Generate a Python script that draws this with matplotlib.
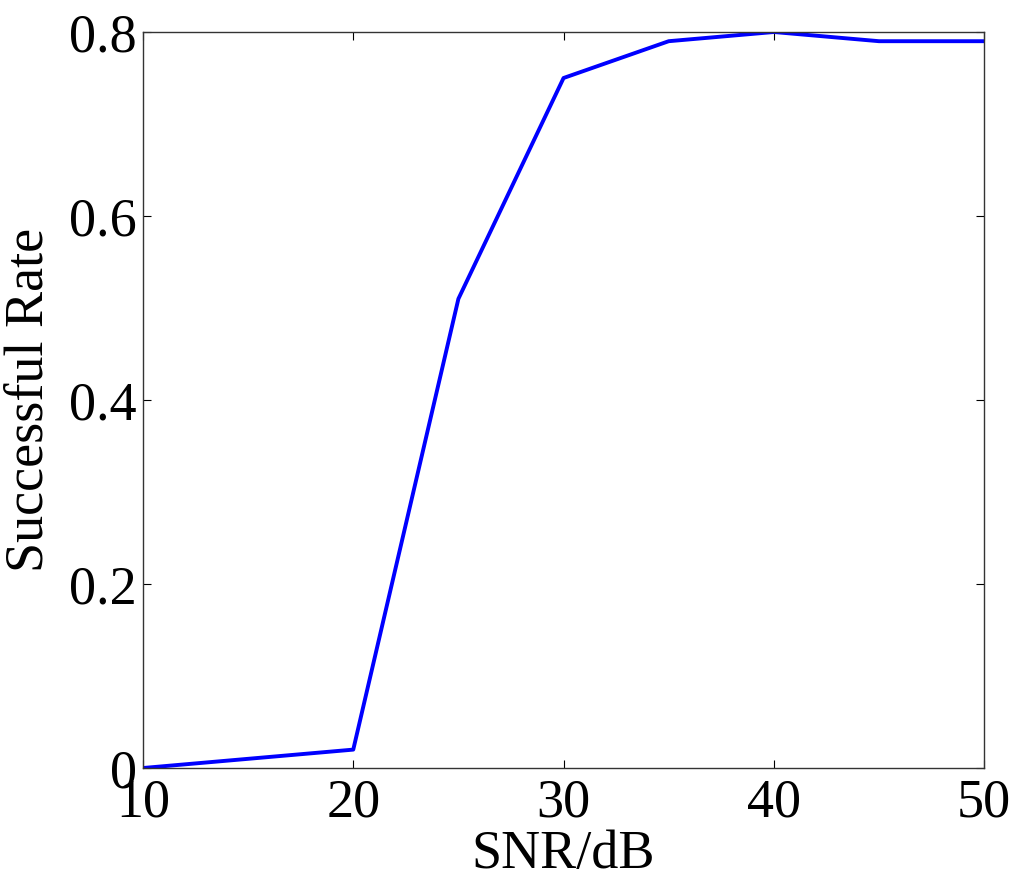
import matplotlib
matplotlib.use('Agg')
import matplotlib.pyplot as plt

snr = [10, 15, 20, 25, 30, 35, 40, 45, 50]
rate = [0.0, 0.01, 0.02, 0.51, 0.75, 0.79, 0.80, 0.79, 0.79]
xticks = [10, 20, 30, 40, 50]
yticks = [0, 0.2, 0.4, 0.6, 0.8]
yticklabels = ['0', '0.2', '0.4', '0.6', '0.8']

plt.rcParams['font.family'] = ['Liberation Serif', 'DejaVu Serif']

fig = plt.figure(figsize=(10.24, 8.84), dpi=100)
ax = fig.add_axes([0.1396, 0.1312, 0.8215, 0.8326])

ax.plot(snr, rate, color='#0000ff', linewidth=2.8)

ax.set_xlim(10, 50)
ax.set_ylim(0, 0.8)
ax.set_xticks(xticks)
ax.set_yticks(yticks)
ax.set_yticklabels(yticklabels)
ax.tick_params(direction='in', length=6, width=0.8, top=True, right=True,
               labelsize=39)
ax.tick_params(axis='x', pad=7)
ax.tick_params(axis='y', pad=4.5)
for s in ax.spines.values():
    s.set_linewidth(1.0)
    s.set_color('#333333')

ax.set_xlabel('SNR/dB', fontsize=39)
ax.set_ylabel('Successful Rate', fontsize=39)
ax.xaxis.set_label_coords(0.5, -0.083)
ax.yaxis.set_label_coords(-0.105, 0.5)

fig.savefig('out.png', dpi=100)
